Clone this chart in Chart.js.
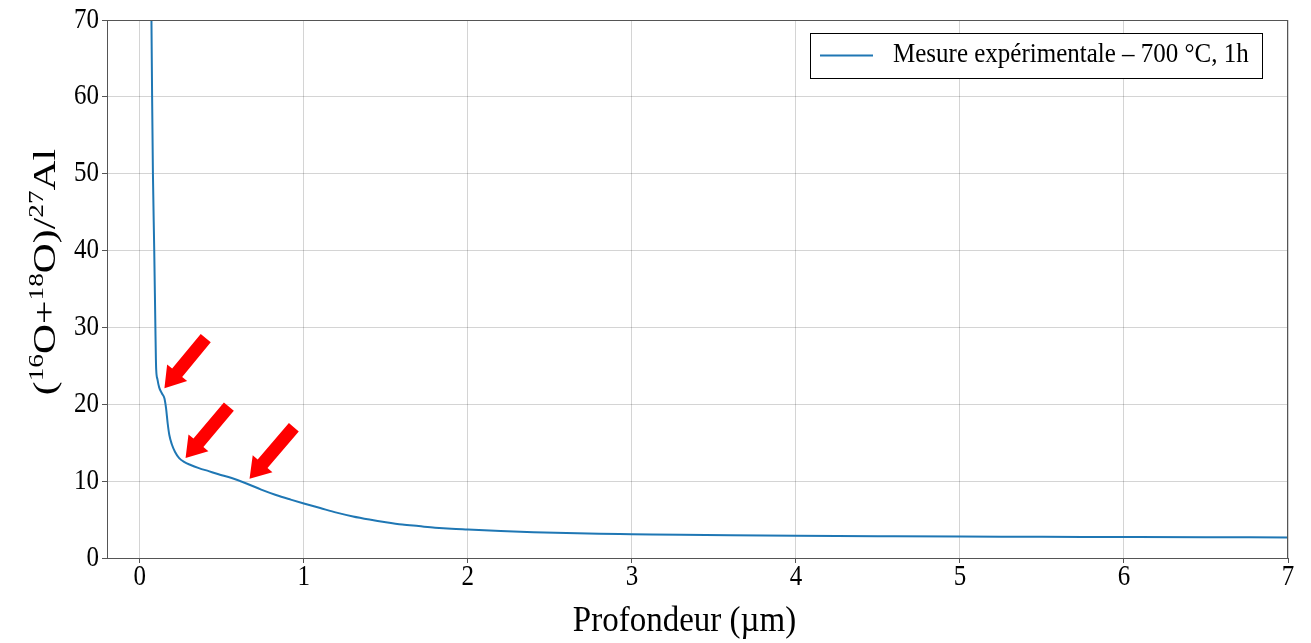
<!DOCTYPE html>
<html>
<head>
<meta charset="utf-8">
<script src="https://cdn.jsdelivr.net/npm/chart.js@4"></script>
<style>
    html, body { margin: 0; padding: 0; background: #fff; }
    #wrap { width: 1311px; height: 643px; position: relative; }
</style>
</head>
<body>
<div id="wrap"><canvas id="graf"></canvas></div>
<script>
// profondeur (µm) et rapport (16O+18O)/27Al
const profondeur = [0.071, 0.075, 0.080, 0.088, 0.095, 0.098, 0.100, 0.108, 0.118, 0.135, 0.150, 0.160, 0.170, 0.180, 0.195, 0.215, 0.240, 0.270, 0.310, 0.360, 0.420, 0.480, 0.560, 0.650, 0.740, 0.830, 0.920, 1.0, 1.1, 1.2, 1.3, 1.4, 1.5, 1.6, 1.7, 1.8, 1.9, 2.0, 2.2, 2.4, 2.6, 2.8, 3.0, 3.3, 3.6, 4.0, 4.5, 5.0, 5.5, 6.0, 6.5, 7.0];
const rapport = [70, 60, 50, 40, 30, 26, 24.5, 23.2, 22.2, 21.4, 20.8, 19.5, 17.5, 16.0, 14.8, 13.8, 13.0, 12.5, 12.1, 11.7, 11.3, 10.9, 10.4, 9.7, 8.9, 8.2, 7.6, 7.1, 6.5, 5.9, 5.4, 5.0, 4.65, 4.35, 4.15, 3.95, 3.8, 3.7, 3.5, 3.35, 3.25, 3.15, 3.1, 3.02, 2.96, 2.9, 2.84, 2.79, 2.76, 2.73, 2.7, 2.68];

const xTicks = [0, 1, 2, 3, 4, 5, 6, 7];
const yTicks = [0, 10, 20, 30, 40, 50, 60, 70];

// fleches rouges (coordonnees en donnees)
const flechePointeX = [0.150, 0.279, 0.669];
const flechePointeY = [22.1, 13.0, 10.3];
const flecheQueueX = [0.402, 0.543, 0.939];
const flecheQueueY = [28.6, 19.7, 17.0];

const legendeTexte = 'Mesure expérimentale – 700 °C, 1h';
const titreX = 'Profondeur (µm)';

const BLEU = '#1f77b4';
const FONT = "'Liberation Serif', 'Times New Roman', serif";

const points = profondeur.map((x, i) => ({ x: x, y: rapport[i] }));

// texte legerement etire en hauteur comme sur la figure d'origine
function texte(ctx, s, x, y, taille, etirement, align) {
    ctx.save();
    ctx.translate(x, y);
    ctx.scale(1, etirement);
    ctx.font = taille + 'px ' + FONT;
    ctx.fillStyle = '#000';
    ctx.textAlign = align;
    ctx.textBaseline = 'middle';
    ctx.fillText(s, 0, 0);
    ctx.restore();
}

const decorPlugin = {
    id: 'decor',
    afterDatasetsDraw(chart) {
        const ctx = chart.ctx;
        const a = chart.chartArea;
        const sx = chart.scales.x;
        const sy = chart.scales.y;

        // cadre complet
        ctx.save();
        ctx.strokeStyle = '#555';
        ctx.lineWidth = 1;
        ctx.strokeRect(a.left + 0.5, a.top + 0.5, a.right - a.left - 1, a.bottom - a.top);
        ctx.restore();

        // fleches
        ctx.save();
        ctx.fillStyle = '#ff0000';
        for (let i = 0; i < flechePointeX.length; i++) {
            const tx = sx.getPixelForValue(flechePointeX[i]);
            const ty = sy.getPixelForValue(flechePointeY[i]);
            const qx = sx.getPixelForValue(flecheQueueX[i]);
            const qy = sy.getPixelForValue(flecheQueueY[i]);
            const len = Math.hypot(tx - qx, ty - qy);
            const ux = (tx - qx) / len, uy = (ty - qy) / len;
            const nx = -uy, ny = ux;
            const w = 6.5, hw = 13, hl = 20;
            const bx = tx - ux * hl, by = ty - uy * hl;
            ctx.beginPath();
            ctx.moveTo(qx + nx * w, qy + ny * w);
            ctx.lineTo(bx + nx * w, by + ny * w);
            ctx.lineTo(bx + nx * hw, by + ny * hw);
            ctx.lineTo(tx, ty);
            ctx.lineTo(bx - nx * hw, by - ny * hw);
            ctx.lineTo(bx - nx * w, by - ny * w);
            ctx.lineTo(qx - nx * w, qy - ny * w);
            ctx.closePath();
            ctx.fill();
        }
        ctx.restore();

        // etiquettes des graduations
        sx.ticks.forEach(t => {
            texte(ctx, String(t.value), sx.getPixelForValue(t.value), a.bottom + 19, 25, 1.2, 'center');
        });
        sy.ticks.forEach(t => {
            texte(ctx, String(t.value), a.left - 8, sy.getPixelForValue(t.value), 25, 1.15, 'right');
        });

        // titre axe x
        texte(ctx, titreX, (a.left + a.right) / 2 - 13, a.bottom + 64, 33, 1.08, 'center');

        // legende
        ctx.save();
        const bw = 452, bh = 45;
        const bxl = a.right - 26 - bw, byt = a.top + 13;
        ctx.fillStyle = '#fff';
        ctx.fillRect(bxl, byt, bw, bh);
        ctx.strokeStyle = '#000';
        ctx.lineWidth = 1;
        ctx.strokeRect(bxl + 0.5, byt + 0.5, bw, bh);
        ctx.strokeStyle = BLEU;
        ctx.lineWidth = 2;
        ctx.beginPath();
        ctx.moveTo(bxl + 10, byt + 22.5);
        ctx.lineTo(bxl + 63, byt + 22.5);
        ctx.stroke();
        ctx.restore();
        texte(ctx, legendeTexte, bxl + 83, byt + 22, 25, 1.1, 'left');

        // titre axe y avec exposants
        ctx.save();
        const cy = (a.top + a.bottom) / 2 - 17;
        ctx.translate(45, cy);
        ctx.rotate(-Math.PI / 2);
        ctx.scale(1.3, 1);
        const parts = [['(', 0], ['16', 1], ['O+', 0], ['18', 1], ['O)/', 0], ['27', 1], ['Al', 0]];
        const big = '32px ' + FONT, small = '21px ' + FONT;
        let total = 0;
        parts.forEach(p => { ctx.font = p[1] ? small : big; total += ctx.measureText(p[0]).width; });
        let cx = -total / 2;
        ctx.fillStyle = '#000';
        ctx.textBaseline = 'alphabetic';
        parts.forEach(p => {
            ctx.font = p[1] ? small : big;
            ctx.fillText(p[0], cx, p[1] ? -2 : 10);
            cx += ctx.measureText(p[0]).width;
        });
        ctx.restore();
    }
};

new Chart(document.getElementById('graf'), {
    type: 'scatter',
    data: {
        datasets: [{
            label: legendeTexte,
            data: points,
            showLine: true,
            borderColor: BLEU,
            backgroundColor: BLEU,
            borderWidth: 2,
            pointRadius: 0,
            tension: 0.3,
            cubicInterpolationMode: 'monotone'
        }]
    },
    options: {
        responsive: true,
        maintainAspectRatio: false,
        animation: false,
        layout: { padding: { top: 20, right: 23, left: 0, bottom: 0 } },
        plugins: {
            legend: { display: false },
            tooltip: { enabled: false }
        },
        scales: {
            x: {
                type: 'linear',
                min: -0.2,
                max: 7,
                afterFit: s => { s.height = 85; },
                afterBuildTicks: s => { s.ticks = xTicks.map(v => ({ value: v })); },
                ticks: { display: false },
                grid: { color: 'rgba(0,0,0,0.17)', tickColor: '#555', tickLength: 5 },
                border: { color: '#555' }
            },
            y: {
                type: 'linear',
                min: 0,
                max: 70,
                afterFit: s => { s.width = 107; },
                afterBuildTicks: s => { s.ticks = yTicks.map(v => ({ value: v })); },
                ticks: { display: false },
                grid: { color: 'rgba(0,0,0,0.17)', tickColor: '#555', tickLength: 5 },
                border: { color: '#555' }
            }
        }
    },
    plugins: [decorPlugin]
});
</script>
</body>
</html>
